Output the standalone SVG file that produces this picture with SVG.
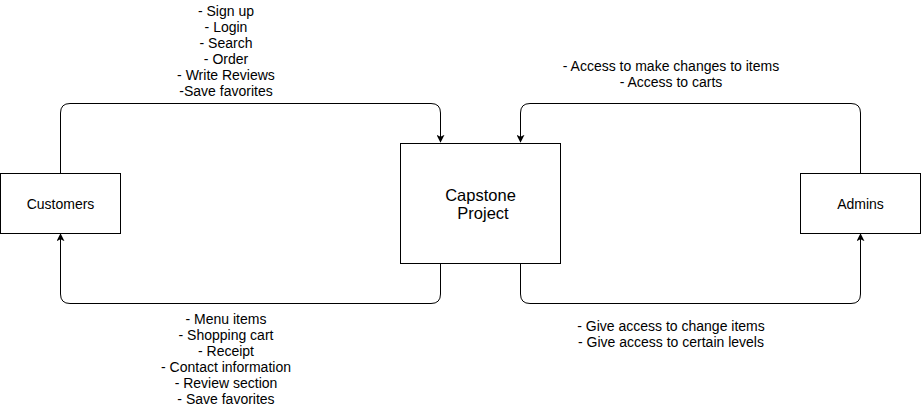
<svg xmlns="http://www.w3.org/2000/svg" width="921" height="409" viewBox="0 0 921 409">
<defs>
<style>
.box{fill:#fff;stroke:#000;stroke-width:1}
.edge{fill:none;stroke:#000;stroke-width:1}
text{font-family:"Liberation Sans",Arial,sans-serif;font-size:14px;fill:#000;text-anchor:middle}
.big{font-size:16.5px}
</style>
<marker id="arr" viewBox="0 0 10 10" refX="9" refY="5" markerWidth="8" markerHeight="8" markerUnits="userSpaceOnUse" orient="auto">
<path d="M0,0 L10,5 L0,10 L2.5,5 Z" fill="#000"/>
</marker>
</defs>
<rect width="921" height="409" fill="#fff"/>
<g id="connectors">
<path class="edge" d="M60.5,173 V113 Q60.5,103.5 70,103.5 H431 Q440.5,103.5 440.5,113 V142" marker-end="url(#arr)"/>
<path class="edge" d="M440.5,263 V294 Q440.5,303.5 431,303.5 H70 Q60.5,303.5 60.5,294 V234" marker-end="url(#arr)"/>
<path class="edge" d="M860.5,173 V113 Q860.5,103.5 851,103.5 H530 Q520.5,103.5 520.5,113 V142" marker-end="url(#arr)"/>
<path class="edge" d="M520.5,263 V294 Q520.5,303.5 530,303.5 H851 Q860.5,303.5 860.5,294 V234" marker-end="url(#arr)"/>
</g>
<g id="label-customers-to-project">
<text x="226" y="15.5">- Sign up</text>
<text x="226" y="31.5">- Login</text>
<text x="226" y="47.5">- Search</text>
<text x="226" y="63.5">- Order</text>
<text x="226" y="79.5">- Write Reviews</text>
<text x="226" y="95.5">-Save favorites</text>
</g>
<g id="label-project-to-customers">
<text x="226" y="323.5">- Menu items</text>
<text x="226" y="339.5">- Shopping cart</text>
<text x="226" y="355.5">- Receipt</text>
<text x="226" y="371.5">- Contact information</text>
<text x="226" y="387.5">- Review section</text>
<text x="226" y="403.5">- Save favorites</text>
</g>
<g id="label-admins-to-project">
<text x="671" y="70.5">- Access to make changes to items</text>
<text x="671" y="86.5">- Access to carts</text>
</g>
<g id="label-project-to-admins">
<text x="671" y="330.5">- Give access to change items</text>
<text x="671" y="346.5">- Give access to certain levels</text>
</g>
<g id="customers">
<rect class="box" x="0.5" y="173.5" width="120" height="60"/>
<text x="60.5" y="208.5">Customers</text>
</g>
<g id="capstone">
<rect class="box" x="400.5" y="143.5" width="160" height="120"/>
<text class="big" x="480.5" y="200.5">Capstone</text>
<text class="big" x="483" y="218.5">Project</text>
</g>
<g id="admins">
<rect class="box" x="800.5" y="173.5" width="120" height="60"/>
<text x="860.5" y="208.5">Admins</text>
</g>
</svg>
